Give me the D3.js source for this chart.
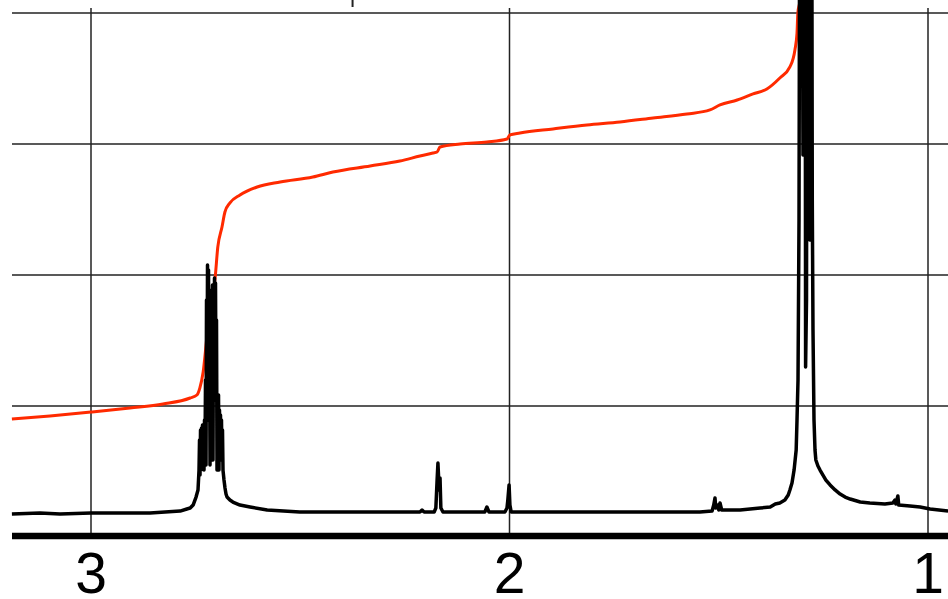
<!DOCTYPE html>
<html>
<head>
<meta charset="utf-8">
<script src="https://cdn.jsdelivr.net/npm/d3@7"></script>
<style>
html,body{margin:0;padding:0;background:#fff;}
svg{display:block;}
</style>
</head>
<body>
<svg id="chart" width="948" height="599"></svg>
<script>
// x-axis tick labels (ppm) and horizontal grid levels (intensity units)
const xTicks = [3, 2, 1];
const yGrid = [1, 2, 3, 4];

// 1H spectrum: chemical shift (ppm) and intensity
const specPpm = [
  3.189,3.122,3.074,3.000,2.931,2.859,2.823,2.787,2.771,2.763,2.756,2.749,
  2.7443,2.7419,2.7407,2.7395,2.7383,2.7371,2.7359,2.7348,2.7336,2.7324,2.7312,2.7300,
  2.7288,2.7276,2.7264,2.7252,2.7240,2.7228,2.7216,2.7204,2.7192,2.7180,2.7168,2.7156,
  2.7145,2.7133,2.7121,2.7109,2.7097,2.7085,2.7073,2.7061,2.7049,2.7037,2.7025,2.7013,
  2.7001,2.6989,2.6977,2.6965,2.6953,2.6942,2.6930,2.6918,2.6906,2.6894,2.6882,2.6870,
  2.6858,2.6846,2.6822,2.6798,2.6774,2.6750,
  2.668,2.661,2.644,2.620,2.579,2.501,2.381,2.262,2.214,2.209,2.204,2.180,
  2.176,2.173,2.171,2.168,2.166,2.164,2.159,2.059,2.054,2.049,2.011,2.006,
  2.004,2.001,1.999,1.996,1.903,1.784,1.664,1.545,1.516,1.512,1.509,1.507,
  1.502,1.500,1.497,1.493,1.449,1.401,1.377,1.365,1.354,1.342,1.334,1.330,
  1.325,1.320,1.315,1.313,
  1.3106,1.3082,1.3058,1.3020,1.2987,1.2968,1.2939,1.2925,1.2903,1.2884,1.2843,1.2824,
  1.2812,1.2784,1.2765,1.2748,1.2724,
  1.270,1.268,1.263,1.258,1.251,1.244,1.234,1.222,1.210,1.198,1.186,1.162,
  1.139,1.103,1.084,1.079,1.077,1.072,1.070,1.043,1.019,0.995,0.952];
const specInt = [
  0.176,0.183,0.176,0.183,0.183,0.183,0.191,0.198,0.214,0.221,0.244,0.305,
  0.359,0.511,0.740,0.473,0.817,0.511,0.832,0.588,0.855,0.550,0.817,0.511,
  0.893,0.626,1.198,0.550,1.809,1.046,2.076,1.427,2.038,0.893,1.580,0.550,
  1.809,0.893,1.885,1.046,1.924,0.588,1.809,1.198,1.977,1.427,1.939,1.046,
  1.656,0.511,1.046,0.817,1.084,0.511,0.969,0.740,0.931,0.664,0.893,0.588,
  0.817,0.511,0.435,0.374,0.328,0.305,
  0.282,0.267,0.244,0.229,0.206,0.191,0.191,0.191,0.191,0.206,0.191,0.191,
  0.221,0.435,0.565,0.359,0.450,0.221,0.191,0.191,0.229,0.191,0.191,0.221,
  0.282,0.397,0.244,0.191,0.191,0.191,0.191,0.191,0.198,0.244,0.298,0.221,
  0.244,0.206,0.260,0.206,0.206,0.221,0.229,0.252,0.260,0.282,0.321,0.359,
  0.412,0.511,0.664,0.893,
  1.198,2.420,6.389,6.389,2.916,6.389,6.389,1.298,1.809,6.389,6.389,2.267,
  6.389,6.389,2.573,1.580,0.893,
  0.664,0.588,0.542,0.511,0.473,0.435,0.397,0.359,0.328,0.305,0.290,0.267,
  0.260,0.252,0.260,0.282,0.252,0.313,0.244,0.237,0.229,0.214,0.198];

// integral trace
const intPpm = [3.189,3.098,3.000,2.907,2.828,2.763,2.747,2.740,2.732,2.723,2.716,2.708,2.704,2.697,2.687,2.680,2.668,2.644,2.603,2.548,2.470,2.422,2.333,2.262,2.214,2.183,2.173,2.166,2.118,2.054,2.006,1.999,1.975,1.896,1.815,1.736,1.657,1.576,1.521,1.497,1.456,1.418,1.385,1.354,1.330,1.318,1.313,1.311,1.306,1.299];
const intVal = [0.901,0.924,0.954,0.985,1.015,1.061,1.084,1.137,1.260,1.527,1.710,1.885,1.962,2.214,2.366,2.481,2.550,2.611,2.672,2.710,2.748,2.786,2.832,2.870,2.908,2.931,2.939,2.977,3.000,3.015,3.038,3.069,3.084,3.115,3.145,3.168,3.198,3.229,3.260,3.298,3.336,3.382,3.420,3.504,3.588,3.718,3.847,4.000,4.099,4.710];

const svg = d3.select("#chart");
const x = d3.scaleLinear().domain([3, 1]).range([91, 928]);
const y = d3.scaleLinear().domain([0, 4]).range([537, 13]);
const left = 12, right = 948, gridTop = 8, axisY = 536;

// horizontal grid
svg.append("g").selectAll("line").data(yGrid).join("line")
  .attr("x1", left).attr("x2", right)
  .attr("y1", d => y(d)).attr("y2", d => y(d))
  .attr("stroke", "#222").attr("stroke-width", 1.5);

// vertical grid
svg.append("g").selectAll("line").data(xTicks).join("line")
  .attr("x1", d => x(d)).attr("x2", d => x(d))
  .attr("y1", gridTop).attr("y2", axisY - 3)
  .attr("stroke", "#222").attr("stroke-width", 1.5);

// small tick at top
svg.append("line").attr("x1", x(2.375)).attr("x2", x(2.375)).attr("y1", 0).attr("y2", 7)
  .attr("stroke", "#222").attr("stroke-width", 2);

// thick axis
svg.append("line").attr("x1", left).attr("x2", right).attr("y1", axisY).attr("y2", axisY)
  .attr("stroke", "#000").attr("stroke-width", 6.5);

// tick labels
svg.append("g").selectAll("text").data(xTicks).join("text")
  .attr("x", d => x(d)).attr("y", 593)
  .attr("text-anchor", "middle")
  .attr("font-family", "Liberation Sans, Arial, sans-serif")
  .attr("font-size", 57)
  .attr("fill", "#000")
  .text(d => d);

// integral
const intData = intPpm.map((p, i) => [p, intVal[i]]);
svg.append("path").datum(intData)
  .attr("d", d3.line().curve(d3.curveMonotoneX).x(d => x(d[0])).y(d => y(d[1])))
  .attr("fill", "none").attr("stroke", "#ff2a00").attr("stroke-width", 3)
  .attr("stroke-linejoin", "round");

// spectrum
const specData = specPpm.map((p, i) => [p, specInt[i]]);
svg.append("path").datum(specData)
  .attr("d", d3.line().x(d => x(d[0])).y(d => y(d[1])))
  .attr("fill", "none").attr("stroke", "#000").attr("stroke-width", 3.5)
  .attr("stroke-linejoin", "round");
</script>
</body>
</html>
